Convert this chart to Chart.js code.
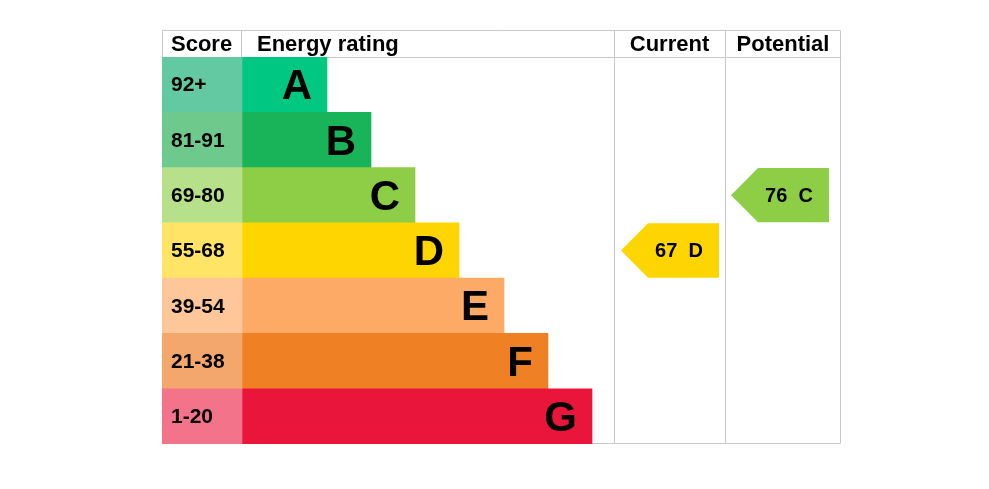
<!DOCTYPE html>
<html>
<head>
<meta charset="utf-8">
<script src="https://cdn.jsdelivr.net/npm/chart.js@4/dist/chart.umd.min.js"></script>
<style>
  html, body { margin: 0; background: #fff; }
  #wrap { width: 989px; height: 489px; }
</style>
</head>
<body>
<div id="wrap"><canvas id="epc"></canvas></div>
<script>
// Chart data
const ratings = ['A', 'B', 'C', 'D', 'E', 'F', 'G'];
const scoreBands = ['92+', '81-91', '69-80', '55-68', '39-54', '21-38', '1-20'];
const barLengths = [85, 129, 173, 217, 262, 306, 350];
const currentScore = 67;
const currentRating = 'D';
const potentialScore = 76;
const potentialRating = 'C';

const barColors = ['#00c781', '#19b459', '#8dce46', '#ffd500', '#fcaa65', '#ef8023', '#e9153b'];
const bandColors = ['#63c9a3', '#6dca8c', '#b7e08b', '#ffe466', '#fdc79a', '#f4a76d', '#f2738a'];

// table columns, in x scale units
const SCORE_END = 80;
const CUR_COL = [452, 563];
const POT_COL = [563, 679];
const FONT = '"Liberation Sans", Arial, sans-serif';
const LINE = '#c8c8c8';

const tablePlugin = {
    id: 'epcTable',
    beforeDatasetsDraw(chart) {
        const { ctx, chartArea: a, scales: { x } } = chart;
        const top = a.top - 27;
        ctx.save();
        ctx.strokeStyle = LINE;
        ctx.lineWidth = 1;
        const px = v => Math.round(x.getPixelForValue(v)) + 0.5;
        ctx.beginPath();
        ctx.rect(px(0), top + 0.5, px(POT_COL[1]) - px(0) - 1, a.bottom - top - 1);
        ctx.moveTo(px(0), a.top + 0.5); ctx.lineTo(px(POT_COL[1]), a.top + 0.5);
        ctx.moveTo(px(SCORE_END) - 1, top); ctx.lineTo(px(SCORE_END) - 1, a.top);
        ctx.moveTo(px(CUR_COL[0]), top); ctx.lineTo(px(CUR_COL[0]), a.bottom);
        ctx.moveTo(px(POT_COL[0]), top); ctx.lineTo(px(POT_COL[0]), a.bottom);
        ctx.stroke();

        // header
        ctx.fillStyle = '#000';
        ctx.font = 'bold 22px ' + FONT;
        ctx.textBaseline = 'middle';
        const hy = top + 15;
        ctx.textAlign = 'left';
        ctx.fillText('Score', x.getPixelForValue(0) + 9, hy);
        ctx.fillText('Energy rating', x.getPixelForValue(SCORE_END) + 15, hy);
        ctx.textAlign = 'center';
        ctx.fillText('Current', (x.getPixelForValue(CUR_COL[0]) + x.getPixelForValue(CUR_COL[1])) / 2, hy);
        ctx.fillText('Potential', (x.getPixelForValue(POT_COL[0]) + x.getPixelForValue(POT_COL[1])) / 2, hy);
        ctx.restore();
    },
    afterDatasetsDraw(chart) {
        const { ctx, scales: { x, y } } = chart;
        const rowH = y.height / ratings.length;
        ctx.save();
        ctx.fillStyle = '#000';
        ctx.textBaseline = 'middle';

        // band labels and letters
        ratings.forEach((r, i) => {
            const cy = y.getPixelForValue(i);
            ctx.font = 'bold 21px ' + FONT;
            ctx.textAlign = 'left';
            ctx.fillText(scoreBands[i], x.getPixelForValue(0) + 9, cy + 1);
            ctx.font = 'bold 42px ' + FONT;
            ctx.textAlign = 'right';
            ctx.fillText(r, x.getPixelForValue(SCORE_END + barLengths[i]) - 15, cy + 3);
        });

        // arrows
        const arrow = (score, rating, col, padL, padR) => {
            const i = ratings.indexOf(rating);
            const cy = y.getPixelForValue(i);
            const h = rowH / 2 - 0.5;
            const tip = x.getPixelForValue(col[0] + padL);
            const end = x.getPixelForValue(col[1] - padR);
            const body = tip + 27;
            ctx.fillStyle = barColors[i];
            ctx.beginPath();
            ctx.moveTo(tip, cy);
            ctx.lineTo(body, cy - h);
            ctx.lineTo(end, cy - h);
            ctx.lineTo(end, cy + h);
            ctx.lineTo(body, cy + h);
            ctx.closePath();
            ctx.fill();
            ctx.fillStyle = '#000';
            ctx.font = 'bold 20px ' + FONT;
            ctx.textAlign = 'center';
            ctx.fillText(score + '  ' + rating, (tip + end) / 2 + 9, cy + 1);
        };
        arrow(currentScore, currentRating, CUR_COL, 7, 6);
        arrow(potentialScore, potentialRating, POT_COL, 6, 12);
        ctx.restore();
    }
};

let epcChart;

function initializeChart() {
    const ctx = document.getElementById('epc');
    epcChart = new Chart(ctx, {
        type: 'bar',
        data: {
            labels: ratings,
            datasets: [{
                data: ratings.map(() => [0, SCORE_END]),
                backgroundColor: bandColors,
                grouped: false
            }, {
                data: barLengths.map(l => [SCORE_END, SCORE_END + l]),
                backgroundColor: barColors,
                grouped: false
            }]
        },
        options: {
            indexAxis: 'y',
            responsive: true,
            maintainAspectRatio: false,
            animation: false,
            layout: { padding: { left: 162, right: 148, top: 57, bottom: 45 } },
            datasets: { bar: { barPercentage: 1, categoryPercentage: 1, borderWidth: 0 } },
            scales: {
                x: { display: false, min: 0, max: POT_COL[1] },
                y: { display: false }
            },
            plugins: { legend: { display: false }, tooltip: { enabled: false } }
        },
        plugins: [tablePlugin]
    });
}

initializeChart();
</script>
</body>
</html>
